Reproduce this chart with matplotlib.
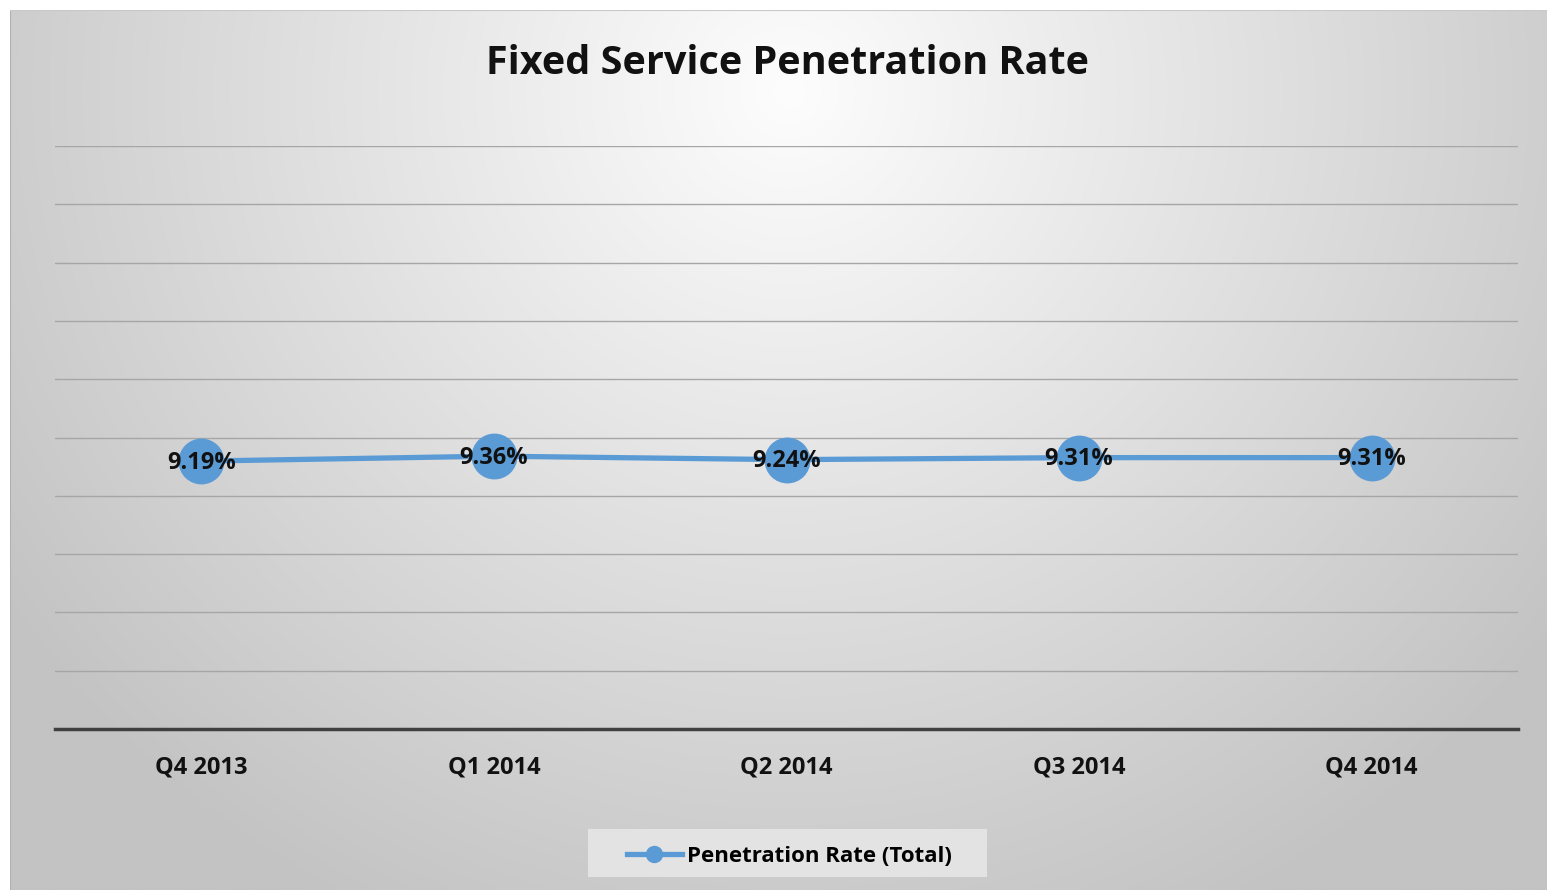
import numpy as np
import matplotlib
matplotlib.use("Agg")
import matplotlib.pyplot as plt
from matplotlib.lines import Line2D
from matplotlib.patches import Rectangle

categories = ["Q4 2013", "Q1 2014", "Q2 2014", "Q3 2014", "Q4 2014"]
values = [9.19, 9.36, 9.24, 9.31, 9.31]
labels = ["9.19%", "9.36%", "9.24%", "9.31%", "9.31%"]
series_name = "Penetration Rate (Total)"
title = "Fixed Service Penetration Rate"

W, H, DPI = 1547, 890, 100
plt.rcParams['font.family'] = ['Open Sans', 'DejaVu Sans']
plt.rcParams['font.weight'] = 'bold'
fig = plt.figure(figsize=(W / DPI, H / DPI), dpi=DPI)
fig.patch.set_facecolor('white')

# background gradient panel
bx0, by0 = 10, 10
bg = fig.add_axes([bx0 / W, 0, (W - bx0) / W, (H - by0) / H])
bg.set_axis_off()
ny, nx = 200, 400
yy, xx = np.mgrid[0:ny, 0:nx]
cx, cy = (787 - bx0) / (W - bx0) * nx, (90 - by0) / (H - by0) * ny
d = np.sqrt(((xx - cx) / (nx * 0.62)) ** 2 + ((yy - cy) / (ny * 1.05)) ** 2)
d = np.clip(d, 0, 1)
val = 253 - 58 * d ** 1.0
img = np.dstack([val, val, val]) / 255.0
bg.imshow(img, aspect='auto', extent=[0, 1, 0, 1], origin='upper', interpolation='bilinear')
bg.set_xlim(0, 1); bg.set_ylim(0, 1)
bg.plot([0, 0], [0, 1], color='#b0b0b0', lw=1.5, transform=bg.transAxes)
bg.plot([0, 1], [1, 1], color='#c8c8c8', lw=1.5, transform=bg.transAxes)

# main axes
ax_l, ax_r, ax_t, ax_b = 55, 1518, 146, 729
ax = fig.add_axes([ax_l / W, (H - ax_b) / H, (ax_r - ax_l) / W, (ax_b - ax_t) / H])
ax.patch.set_alpha(0)
x = np.arange(len(categories))
ax.set_xlim(-0.5, len(categories) - 0.5)
ax.set_ylim(0, 20)
ax.set_yticks(np.arange(0, 21, 2))
ax.yaxis.grid(True, color='#a6a6a6', lw=1.0)
ax.set_axisbelow(True)
for s in ['top', 'right', 'left']:
    ax.spines[s].set_visible(False)
ax.spines['bottom'].set_color('#404040')
ax.spines['bottom'].set_linewidth(2.5)
ax.tick_params(axis='y', length=0, labelleft=False)
ax.tick_params(axis='x', length=0, pad=19)
ax.set_xticks(x)
ax.set_xticklabels(categories, fontsize=17, fontweight='bold', color='#111111')

ax.plot(x, values, color='#5b9bd5', lw=3.8, marker='o', markersize=32,
        markerfacecolor='#5b9bd5', markeredgecolor='#5b9bd5', label=series_name,
        solid_capstyle='round', zorder=3)
for xi, v, t in zip(x, values, labels):
    ax.text(xi, v - 0.06, t, ha='center', va='center', fontsize=17, fontweight='bold',
            color='#111111', zorder=4)

fig.text(787 / W, 1 - 64 / H, title, ha='center', va='center', fontsize=28.5,
         fontweight='bold', color='#111111')

# legend box
fig.patches.append(Rectangle((588 / W, 1 - 877 / H), (987 - 588) / W, (877 - 829) / H,
                             transform=fig.transFigure, facecolor='#e3e3e3',
                             edgecolor='none', zorder=1))
h = Line2D([0], [0], color='#5b9bd5', lw=3.8, marker='o', markersize=11.5)
leg = fig.legend([h], [series_name], loc='center', bbox_to_anchor=(789 / W, 1 - 856 / H),
                 frameon=False, handlelength=2.5, handletextpad=0.2,
                 borderpad=0.2, borderaxespad=0,
                 prop={'weight': 'bold', 'size': 16})
leg.set_zorder(5)

fig.savefig('out.png', dpi=DPI, facecolor=fig.get_facecolor())
